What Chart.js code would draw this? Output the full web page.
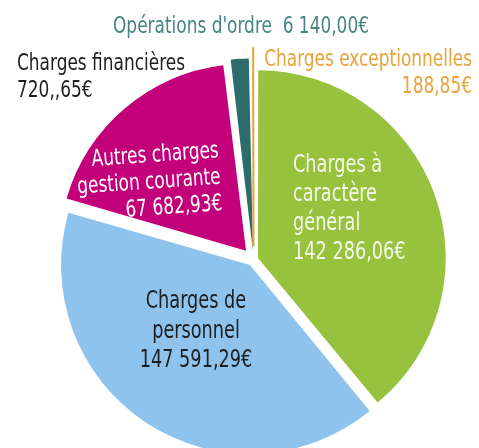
<!DOCTYPE html>
<html lang="fr">
<head>
<meta charset="utf-8">
<title>Dépenses de fonctionnement</title>
<script src="https://cdn.jsdelivr.net/npm/chart.js@4.4.1/dist/chart.umd.min.js"></script>
<style>
  html, body { margin: 0; padding: 0; background: #ffffff; }
  #wrap { width: 479px; height: 448px; position: relative; overflow: hidden; }
</style>
</head>
<body>
<div id="wrap"><canvas id="pieChart" width="479" height="448"></canvas></div>
<script>
// données
const categories = [
  'Charges à caractère général',
  'Charges de personnel',
  'Autres charges gestion courante',
  "Opérations d'ordre",
  'Charges financières',
  'Charges exceptionnelles'
];
const amounts = [142286.06, 147591.29, 67682.93, 6140.00, 720.65, 188.85];
const amountLabels = ['142 286,06€', '147 591,29€', '67 682,93€', '6 140,00€', '720,,65€', '188,85€'];

// styles
const sliceColors = ['#96c23e', '#8ec3ee', '#c2007a', '#2e6b6b', '#dfe7ef', '#e8a332'];
const sliceBorders = ['#ffffff', '#ffffff', '#ffffff', '#2e6b6b', '#dfe7ef', '#e8a332'];
const sliceBorderWidths = [0, 0, 0, 0, 0, 2];
// chart.js moves a slice by offset / 4
const sliceOffsets = [19, 26, 46, 32, 32, 52];

const FONT = "'DejaVu Sans Condensed', 'Liberation Sans Narrow', 'Arial Narrow', sans-serif";
const SQUEEZE = 0.82; // the original font is narrower than anything installed

const labelPlugin = {
  id: 'pieLabels',
  afterDraw(chart) {
    const ctx = chart.ctx;
    ctx.save();
    ctx.textBaseline = 'alphabetic';

    function lines(list, x, y, step, align, color, size) {
      ctx.font = size + 'px ' + FONT;
      ctx.fillStyle = color;
      ctx.textAlign = align;
      list.forEach((t, i) => {
        ctx.save();
        ctx.translate(x, y + i * step);
        ctx.scale(SQUEEZE, 1);
        ctx.fillText(t, 0, 0);
        ctx.restore();
      });
    }

    // à l'extérieur
    lines([categories[3] + '  ' + amountLabels[3]], 241, 33, 0, 'center', '#478585', 23);
    lines([categories[4], amountLabels[4]], 17, 70, 27, 'left', '#1e1e1e', 23);
    lines([categories[5], amountLabels[5]], 472, 66, 27, 'right', '#e8a33a', 23);

    // dans les parts
    lines(['Charges à', 'caractère', 'général', amountLabels[0]], 293, 172, 29, 'left', '#f4f9ea', 24);
    lines(['Charges de', 'personnel', amountLabels[1]], 196, 308, 29.5, 'center', '#1e1e1e', 24);

    ctx.save();
    ctx.translate(221, 183);
    ctx.rotate(-4 * Math.PI / 180);
    lines(['Autres charges', 'gestion courante', amountLabels[2]], 0, -26, 26.5, 'right', '#ffffff', 23);
    ctx.restore();

    ctx.restore();
  }
};

new Chart(document.getElementById('pieChart'), {
  type: 'pie',
  data: {
    labels: categories,
    datasets: [{
      data: amounts,
      backgroundColor: sliceColors,
      borderColor: sliceBorders,
      borderWidth: sliceBorderWidths,
      offset: sliceOffsets,
      radius: 186,
      clip: false
    }]
  },
  options: {
    responsive: false,
    animation: false,
    events: [],
    layout: { padding: { left: 28, right: 0, top: 71, bottom: 0 } },
    plugins: {
      legend: { display: false },
      tooltip: { enabled: false }
    }
  },
  plugins: [labelPlugin]
});
</script>
</body>
</html>
